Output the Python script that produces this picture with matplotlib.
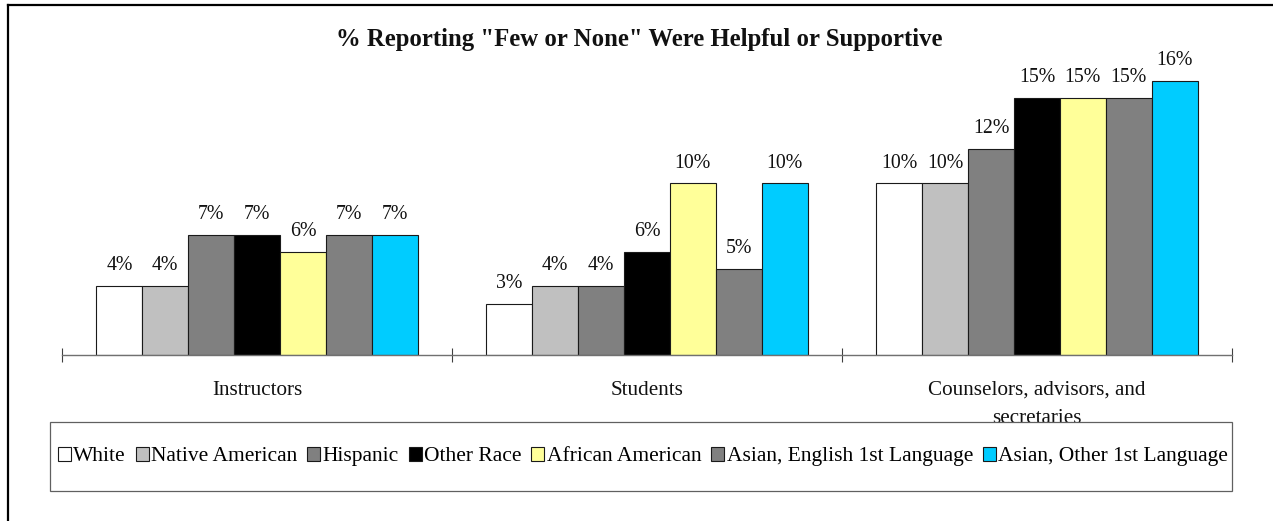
import matplotlib
matplotlib.use("Agg")
import matplotlib.pyplot as plt
from matplotlib.patches import Rectangle
from matplotlib.lines import Line2D
import numpy as np

categories = ["Instructors", "Students", "Counselors, advisors, and\nsecretaries"]
series = ["White", "Native American", "Hispanic", "Other Race", "African American",
          "Asian, English 1st Language", "Asian, Other 1st Language"]
white = [4, 3, 10]
native_american = [4, 4, 10]
hispanic = [7, 4, 12]
other_race = [7, 6, 15]
african_american = [6, 10, 15]
asian_english = [7, 5, 15]
asian_other = [7, 10, 16]
values = [white, native_american, hispanic, other_race, african_american, asian_english, asian_other]
colors = ["#FFFFFF", "#C0C0C0", "#808080", "#000000", "#FFFF99", "#808080", "#00CCFF"]
title = '% Reporting "Few or None" Were Helpful or Supportive'

plt.rcParams['font.family'] = ['Liberation Serif', 'DejaVu Serif']

W, H = 1273, 521
fig = plt.figure(figsize=(W / 100, H / 100), dpi=100)
ax = fig.add_axes([62 / W, 1 - 355 / H, (1232 - 62) / W, (355 - 46.3) / H])

n = len(series)
w = 1.0 / (n + 1.5)
x = np.arange(len(categories))
bars = []
for j, (vals, col) in enumerate(zip(values, colors)):
    b = ax.bar(x + (j - (n - 1) / 2) * w, vals, width=w, color=col,
               edgecolor="#1a1a1a", linewidth=0.8, label=series[j], zorder=2)
    bars.append(b)
    for xi, v in zip(x + (j - (n - 1) / 2) * w, vals):
        ax.annotate(f"{v:.0f}%", xy=(xi, v), xytext=(0, 11.5), textcoords="offset points",
                    ha="center", va="baseline", fontsize=14.3, color="#111111")

ax.set_xlim(-0.5, len(categories) - 0.5)
ax.set_ylim(0, 18)
for s in ["top", "right", "left"]:
    ax.spines[s].set_visible(False)
ax.spines["bottom"].set_color("#707070")
ax.spines["bottom"].set_linewidth(1.0)
ax.set_yticks([])
ax.set_xticks([])
ax.set_xticks(np.arange(len(categories) + 1) - 0.5, minor=True)
ax.tick_params(axis="x", which="minor", direction="inout", length=10, width=0.8,
               color="#404040", labelbottom=False)
ax.patch.set_alpha(0)

line_gap_pt = 27 / 100 * 72
for xi, c in zip(x, categories):
    for k, part in enumerate(c.split("\n")):
        ax.annotate(part, xy=(xi, 0), xytext=(0, -28.8 - k * (line_gap_pt + 0.5)),
                    textcoords="offset points", ha="center", va="baseline",
                    fontsize=15.2, color="#111111", annotation_clip=False)

fig.text(639.5 / W, 1 - 46 / H, title, ha="center", va="baseline",
         fontsize=17.8, fontweight="bold", color="#111111")

# legend box
box = Rectangle((50 / W, 1 - 491 / H), (1232 - 50) / W, (491 - 422) / H,
                transform=fig.transFigure, facecolor="white", edgecolor="#606060",
                linewidth=0.9, zorder=1)
fig.patches.append(box)

fig.legend(handles=[b[0] for b in bars], labels=series, loc="center",
           bbox_to_anchor=(643 / W, 1 - 456.5 / H), bbox_transform=fig.transFigure,
           ncol=n, frameon=False, fontsize=15.5, handlelength=0.61, handleheight=0.61,
           handletextpad=0.11, columnspacing=0.45, borderpad=0, borderaxespad=0)

# outer border (left and top visible)
fig.lines.append(Line2D([8 / W, 8 / W], [0, 1 - 5 / H], transform=fig.transFigure,
                        color="black", linewidth=1.6))
fig.lines.append(Line2D([8 / W, 1], [1 - 5 / H, 1 - 5 / H], transform=fig.transFigure,
                        color="black", linewidth=1.6))

fig.savefig("out.png", dpi=100, facecolor="white")
